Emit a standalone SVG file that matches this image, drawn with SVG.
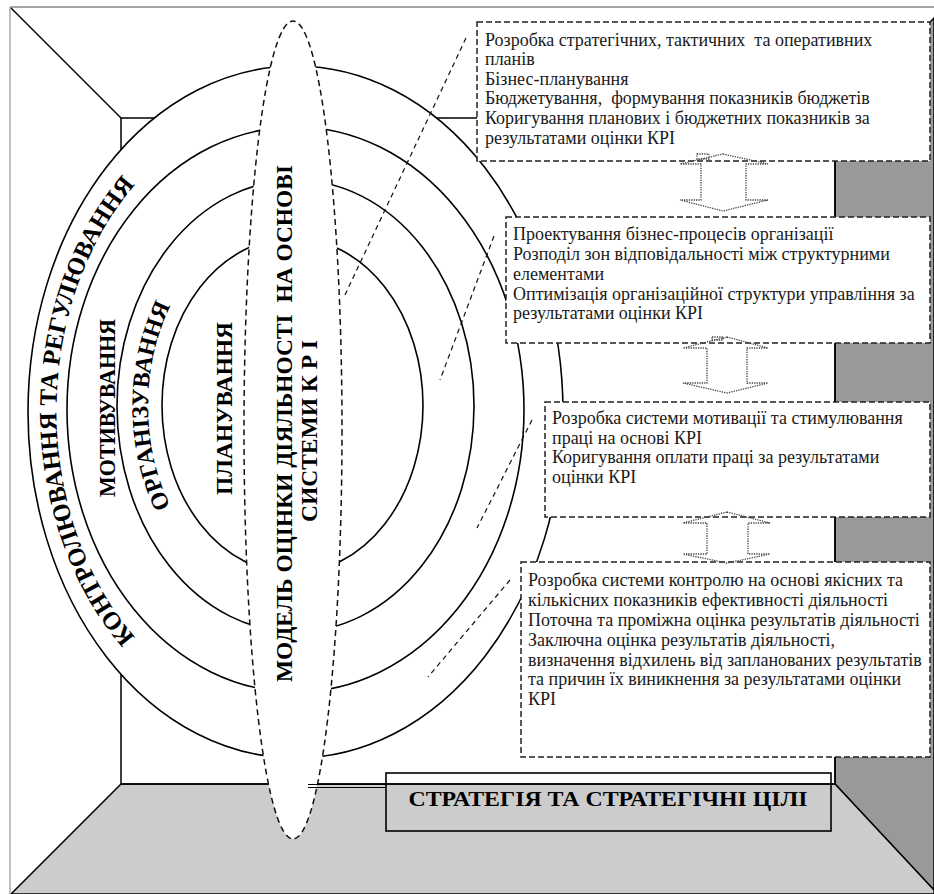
<svg xmlns="http://www.w3.org/2000/svg" width="934" height="894" viewBox="0 0 934 894">
<defs>
<style>
.wall{fill:none;stroke:#000;stroke-width:1.5}
.ring{fill:none;stroke:#000;stroke-width:1.6}
.lbl{font-family:"Liberation Serif","Times New Roman",serif;font-weight:bold;fill:#000}
.box{fill:#fff;stroke:#222;stroke-width:1.5;stroke-dasharray:6 3}
.bt{font-family:"Liberation Serif","Times New Roman",serif;font-size:18px;fill:#1a1a1a;white-space:pre}
.conn{stroke:#111;stroke-width:1.2;stroke-dasharray:5 4;fill:none}
.arr{fill:none;stroke:#444;stroke-width:1.3;stroke-dasharray:1.3 1.1}
</style>
<path id="p1" d="M 295.5 716 A 239 305 0 0 1 295.5 106"/>
<path id="p2" d="M 294 594 A 146 188 0 0 1 294 218"/>
</defs>
<rect x="0" y="0" width="934" height="894" fill="#fff"/>
<g id="room">
<polygon points="835,118 934,18 934,890 835,784" fill="#999" stroke="#000" stroke-width="1.5"/>
<polygon points="121,784 835,784 934,890 934,894 11,894" fill="#ccc" stroke="#000" stroke-width="1.5"/>
<line class="wall" x1="10" y1="7" x2="121" y2="118"/>
<rect class="wall" x="121" y="118" width="714" height="666"/>
</g>
<g id="rings">
<ellipse cx="295.5" cy="412" rx="267.5" ry="346" fill="#fff" stroke="#000" stroke-width="1.6"/>
<ellipse class="ring" cx="295.5" cy="409.5" rx="228.5" ry="282.5"/>
<ellipse class="ring" cx="295.5" cy="406" rx="178.5" ry="226"/>
<ellipse class="ring" cx="292.5" cy="405.5" rx="130.5" ry="167.5"/>
</g>
<g id="ring-labels">
<text class="lbl" font-size="25" text-anchor="middle"><textPath href="#p1" startOffset="50%">КОНТРОЛЮВАННЯ ТА РЕГУЛЮВАННЯ</textPath></text>
<text class="lbl" font-size="24" text-anchor="middle"><textPath href="#p2" startOffset="50%">ОРГАНІЗУВАННЯ</textPath></text>
<text class="lbl" font-size="23" text-anchor="middle" textLength="178" lengthAdjust="spacingAndGlyphs" transform="translate(115,408) rotate(-90)">МОТИВУВАННЯ</text>
<text class="lbl" font-size="23" text-anchor="middle" textLength="173" lengthAdjust="spacingAndGlyphs" transform="translate(232,408.5) rotate(-90)">ПЛАНУВАННЯ</text>
</g>
<g id="model">
<ellipse cx="293" cy="430" rx="49" ry="409" fill="#fff" stroke="#111" stroke-width="1.5" stroke-dasharray="6 4"/>
<text class="lbl" font-size="23" text-anchor="middle" style="white-space:pre" textLength="517" lengthAdjust="spacingAndGlyphs" transform="translate(292,423.5) rotate(-90)">МОДЕЛЬ ОЦІНКИ ДІЯЛЬНОСТІ  НА ОСНОВІ</text>
<text class="lbl" font-size="23" text-anchor="middle" textLength="182" lengthAdjust="spacingAndGlyphs" transform="translate(317,431) rotate(-90)">СИСТЕМИ К Р І</text>
</g>
<g id="connectors">
<line class="conn" x1="466" y1="38" x2="344" y2="297"/>
<line class="conn" x1="494" y1="236" x2="440" y2="380"/>
<line class="conn" x1="532" y1="420" x2="477" y2="528"/>
<line class="conn" x1="510" y1="580" x2="428" y2="677"/>
<line x1="308" y1="784.5" x2="386" y2="784.5" stroke="#000" stroke-width="1.2"/>
<line x1="308" y1="787.5" x2="386" y2="787.5" stroke="#000" stroke-width="1.2"/>
</g>
<g id="box1">
<rect class="box" x="477" y="22" width="453" height="139"/>
<text class="bt" x="485" y="45.5">Розробка стратегічних, тактичних  та оперативних</text>
<text class="bt" x="485" y="65">планів</text>
<text class="bt" x="485" y="84.5">Бізнес-планування</text>
<text class="bt" x="485" y="104">Бюджетування,  формування показників бюджетів</text>
<text class="bt" x="485" y="124">Коригування планових і бюджетних показників за</text>
<text class="bt" x="485" y="143.5">результатами оцінки КРІ</text>
</g>
<g id="box2">
<rect class="box" x="506" y="217" width="424" height="126"/>
<text class="bt" x="513" y="240">Проектування бізнес-процесів організації</text>
<text class="bt" x="513" y="260">Розподіл зон відповідальності між структурними</text>
<text class="bt" x="513" y="280">елементами</text>
<text class="bt" x="513" y="300">Оптимізація організаційної структури управління за</text>
<text class="bt" x="513" y="319">результатами оцінки КРІ</text>
</g>
<g id="box3">
<rect class="box" x="545" y="402" width="385" height="115"/>
<text class="bt" x="552" y="424">Розробка системи мотивації та стимулювання</text>
<text class="bt" x="552" y="444">праці на основі КРІ</text>
<text class="bt" x="552" y="463">Коригування оплати праці за результатами</text>
<text class="bt" x="552" y="483">оцінки КРІ</text>
</g>
<g id="box4">
<rect class="box" x="521" y="562" width="409" height="195"/>
<text class="bt" x="528" y="586">Розробка системи контролю на основі якісних та</text>
<text class="bt" x="528" y="606">кількісних показників ефективності діяльності</text>
<text class="bt" x="528" y="626">Поточна та проміжна оцінка результатів діяльності</text>
<text class="bt" x="528" y="646">Заключна оцінка результатів діяльності,</text>
<text class="bt" x="528" y="666">визначення відхилень від запланованих результатів</text>
<text class="bt" x="528" y="685">та причин їх виникнення за результатами оцінки</text>
<text class="bt" x="528" y="705">КРІ</text>
</g>
<g id="arrows">
<polygon class="arr" points="723,154 768,164 746,164 746,200 768,200 723,211 680,200 701,200 701,164 680,164"/>
<rect class="arr" x="697" y="154" width="12" height="5"/>
<polygon class="arr" points="727,337 768,348 747,348 747,383 768,383 727,393 683,383 707,383 707,348 683,348"/>
<rect class="arr" x="712" y="337" width="11" height="3"/>
<polygon class="arr" points="727,512 770,523 748,523 748,554 770,554 727,563 683,554 707,554 707,523 683,523"/>
</g>
<g id="strategy">
<rect x="386" y="773" width="445" height="58" fill="none" stroke="#000" stroke-width="1.6"/>
<text class="lbl" font-size="22" x="608" y="806" text-anchor="middle" textLength="399" lengthAdjust="spacingAndGlyphs">СТРАТЕГІЯ ТА СТРАТЕГІЧНІ ЦІЛІ</text>
</g>
<g id="frame">
<line x1="10" y1="7" x2="934" y2="7" stroke="#888" stroke-width="1.5"/>
<line x1="10" y1="7" x2="10" y2="894" stroke="#aaa" stroke-width="1.5"/>
</g>
</svg>
